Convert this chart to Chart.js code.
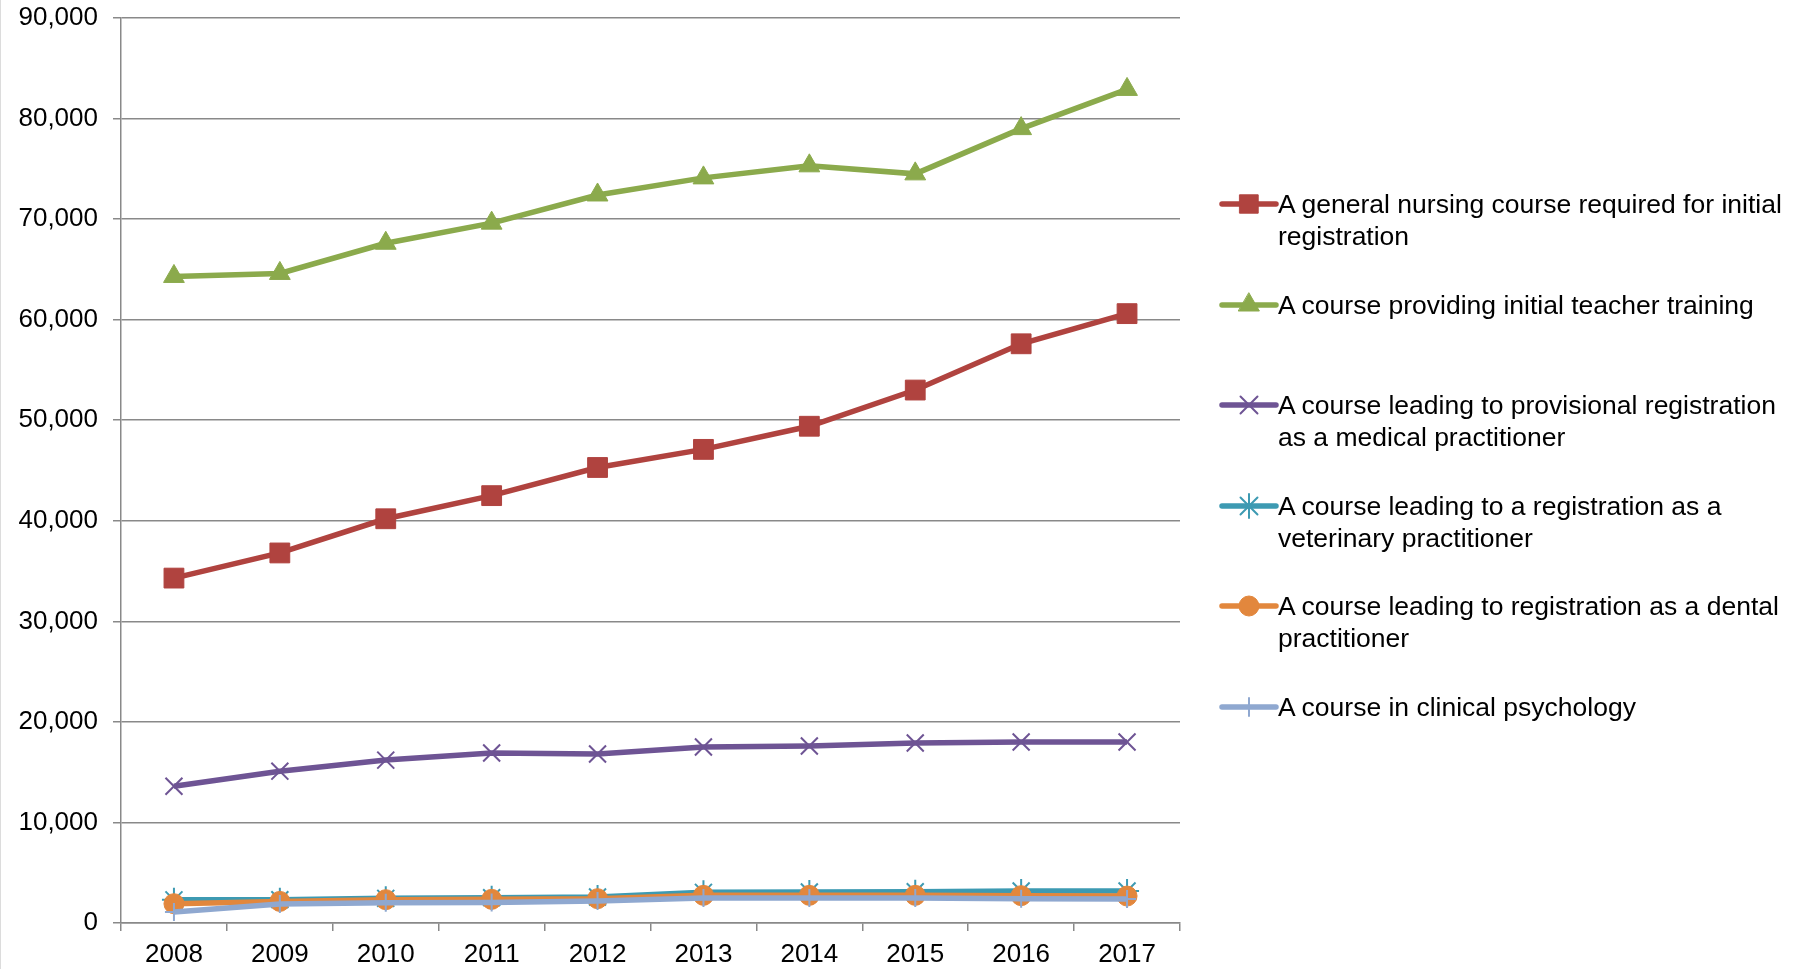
<!DOCTYPE html>
<html><head><meta charset="utf-8">
<script src="https://cdn.jsdelivr.net/npm/chart.js@4/dist/chart.umd.min.js"></script>
<style>
html,body{margin:0;padding:0;background:#fff;}
#wrap{position:relative;width:1802px;height:969px;overflow:hidden;background:#fff;}
#c{position:absolute;left:0;top:0;}
#edge{position:absolute;left:0;top:0;width:1px;height:969px;background:#dcdcdc;}
.leg{position:absolute;left:1218px;height:32px;font-family:"Liberation Sans",Arial,sans-serif;font-size:26.5px;line-height:32px;color:#000;}
.leg canvas{position:absolute;left:0;top:0;}
.leg span{position:absolute;left:60px;top:0;white-space:pre;}
</style></head>
<body>
<div id="wrap">
<canvas id="c" width="1802" height="969"></canvas>
<div id="edge"></div>
<div id="legend"></div>
</div>
<script>
// ---- data ----
const years = ['2008','2009','2010','2011','2012','2013','2014','2015','2016','2017'];
const yTickValues = [0,10000,20000,30000,40000,50000,60000,70000,80000,90000];
const seriesNames = [
  'A general nursing course required for initial\nregistration',
  'A course providing initial teacher training',
  'A course leading to provisional registration\nas a medical practitioner',
  'A course leading to a registration as a\nveterinary practitioner',
  'A course leading to registration as a dental\npractitioner',
  'A course in clinical psychology'
];
const nursing  = [34300,36800,40200,42500,45300,47100,49400,53000,57600,60600];
const teacher  = [64300,64600,67600,69600,72400,74100,75300,74500,79000,82900];
const medical  = [13600,15100,16200,16900,16800,17500,17600,17900,18000,18000];
const vet      = [2300,2320,2450,2520,2580,3050,3080,3110,3180,3180];
const dental   = [1920,2150,2320,2350,2420,2750,2750,2750,2720,2680];
const psych    = [1100,1900,2020,2050,2190,2480,2480,2480,2420,2380];

// ---- styles ----
const FONT = '"Liberation Sans", Arial, sans-serif';
const styles = [
  {color:'#B0433F', pointStyle:'rect',     radius:14, bw:1},
  {color:'#8BAA4C', pointStyle:'triangle', radius:12, bw:1},
  {color:'#6E5494', pointStyle:'crossRot', radius:12, bw:2},
  {color:'#3D9AB2', pointStyle:'star',     radius:12, bw:2},
  {color:'#E2873D', pointStyle:'circle',   radius:10, bw:1},
  {color:'#8FA8D0', pointStyle:'cross',    radius:9,  bw:2}
];
const seriesData = [nursing, teacher, medical, vet, dental, psych];

const datasets = seriesData.map((d,i)=>({
  label: seriesNames[i].replace('\n',' '),
  data: d,
  borderColor: styles[i].color,
  backgroundColor: styles[i].color,
  borderWidth: 5.5,
  pointStyle: styles[i].pointStyle,
  pointRadius: styles[i].radius,
  pointBorderWidth: styles[i].bw,
  pointBackgroundColor: styles[i].color,
  pointBorderColor: styles[i].color,
  tension: 0,
  clip: false,
  order: 5 - i
}));

const GRID = '#898989';
new Chart(document.getElementById('c'), {
  type: 'line',
  data: { labels: years, datasets },
  options: {
    responsive: false,
    animation: false,
    devicePixelRatio: 1,
    layout: { padding: { left: 0, right: 622, top: 18, bottom: 0 } },
    plugins: { legend: { display: false }, tooltip: { enabled: false } },
    scales: {
      x: {
        type: 'category',
        offset: true,
        grid: { offset: true, drawOnChartArea: false, drawTicks: true, tickLength: 8, color: GRID, lineWidth: 1.5 },
        border: { display: true, color: GRID, width: 1.5 },
        ticks: { font: { family: FONT, size: 26 }, color: '#000', padding: 8, maxRotation: 0, autoSkip: false },
        afterFit(s) { s.height = 46; s.paddingLeft = 0; s.paddingRight = 0; }
      },
      y: {
        min: 0, max: 90000,
        afterBuildTicks(s) { s.ticks = yTickValues.map(v => ({ value: v })); },
        ticks: { font: { family: FONT, size: 26 }, color: '#000', padding: 15,
                 callback: v => Number(v).toLocaleString('en-US') },
        grid: { color: GRID, lineWidth: 1.5, tickLength: 8 },
        border: { display: true, color: GRID, width: 1.5 },
        afterFit(s) { s.width = 121; s.paddingTop = 0; s.paddingBottom = 0; }
      }
    }
  }
});

// ---- HTML legend ----
const legend = document.getElementById('legend');
const firstLineCenters = [204, 304.5, 405, 505.5, 606, 706.5];
seriesNames.forEach((name, i) => {
  const div = document.createElement('div');
  div.className = 'leg';
  div.style.top = (firstLineCenters[i] - 16) + 'px';
  const cv = document.createElement('canvas');
  cv.width = 64; cv.height = 32;
  const ctx = cv.getContext('2d');
  ctx.strokeStyle = styles[i].color;
  ctx.lineWidth = 5.5;
  ctx.lineCap = 'round';
  ctx.beginPath(); ctx.moveTo(4, 16); ctx.lineTo(58, 16); ctx.stroke();
  if (Chart.helpers && Chart.helpers.drawPoint) {
    ctx.fillStyle = styles[i].color;
    ctx.lineWidth = styles[i].bw;
    Chart.helpers.drawPoint(ctx, { pointStyle: styles[i].pointStyle, radius: Math.min(styles[i].radius, 13), borderWidth: styles[i].bw, rotation: 0 }, 31, 16);
  }
  div.appendChild(cv);
  const sp = document.createElement('span');
  sp.textContent = name;
  div.appendChild(sp);
  legend.appendChild(div);
});
</script>
</body></html>
